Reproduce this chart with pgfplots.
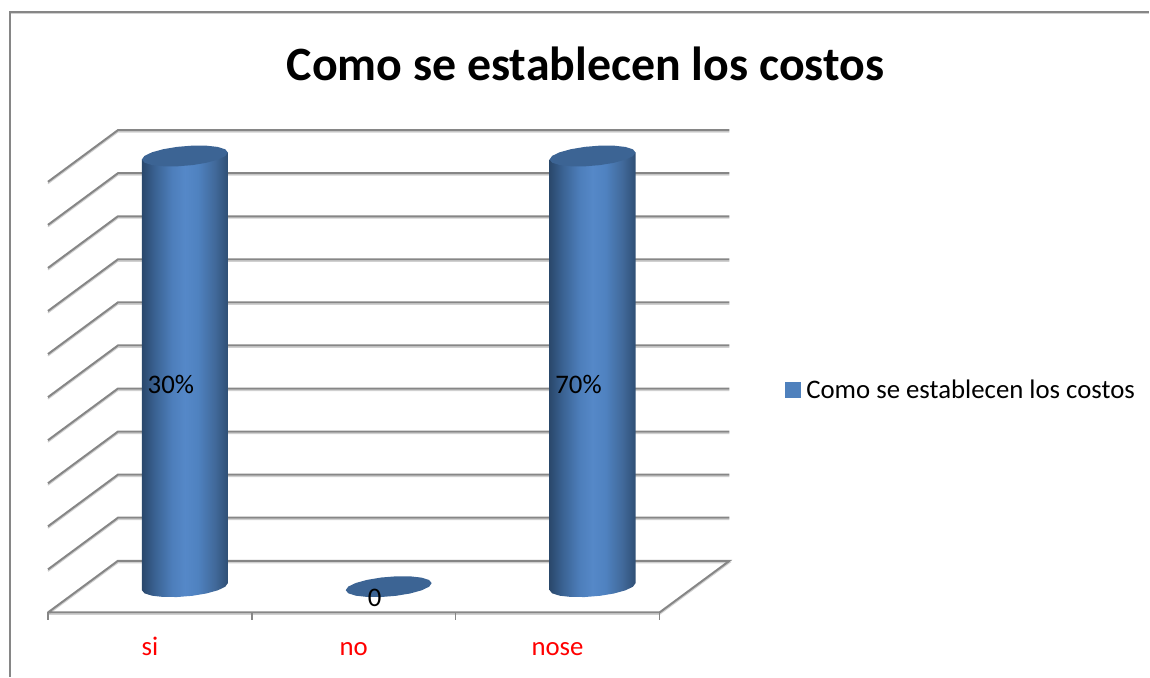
\documentclass[border=0pt]{standalone}
\usepackage{pgfplots}
\usepackage{pgfplotstable}
\usepackage{fontspec}
\setmainfont{Carlito}
\pgfplotsset{compat=1.18}
\definecolor{gridgray}{HTML}{868686}
\definecolor{gridshadow}{HTML}{D0D0D0}
\definecolor{captop}{HTML}{3C6494}
\definecolor{legendblue}{HTML}{4F81BD}
\definecolor{c0}{HTML}{2A486C}
\definecolor{c1}{HTML}{3A6292}
\definecolor{c2}{HTML}{4D7EBB}
\definecolor{c3}{HTML}{5588C8}
\definecolor{c4}{HTML}{4F82C0}
\definecolor{c5}{HTML}{41699A}
\definecolor{c6}{HTML}{2F4F75}
% a path is fitted to the middle 50bp of the shading
\pgfdeclarehorizontalshading{cyl}{100bp}{color(0bp)=(c0); color(25bp)=(c0); color(32.5bp)=(c1); color(42.5bp)=(c2); color(50bp)=(c3); color(57.5bp)=(c4); color(67.5bp)=(c5); color(75bp)=(c6); color(100bp)=(c6)}
% outline of the tilted ellipse (offsets in pixels)
\pgfplotstableread{
ox oy
43 3.5
40.4 6.68
32.9 9.04
21.5 10.32
7.5 10.36
-7.5 9.14
-21.5 6.82
-32.9 3.68
-40.4 0.10
-43 -3.5
-40.4 -6.68
-32.9 -9.04
-21.5 -10.32
-7.5 -10.36
7.5 -9.14
21.5 -6.82
32.9 -3.68
40.4 -0.10
}\capshape
% outline of the cylinder side: lower half of base, then up to the cap
\pgfplotstableread{
ox oy h
-43 -3.5 0
-40.4 -6.68 0
-32.9 -9.04 0
-21.5 -10.32 0
-7.5 -10.36 0
7.5 -9.14 0
21.5 -6.82 0
32.9 -3.68 0
40.4 -0.10 0
43 3.5 0
43 3.5 1
-43 -3.5 1
}\bodyshape
% walls and floor
\pgfplotstableread{
x y
-0.6716 -0.6
-0.3284 0.6
2.6716 0.6
2.3284 -0.6
-0.6716 -0.6
nan nan
-0.6716 0.4
-0.3284 1.6
2.6716 1.6
nan nan
-0.6716 1.4
-0.3284 2.6
2.6716 2.6
nan nan
-0.6716 2.4
-0.3284 3.6
2.6716 3.6
nan nan
-0.6716 3.4
-0.3284 4.6
2.6716 4.6
nan nan
-0.6716 4.4
-0.3284 5.6
2.6716 5.6
nan nan
-0.6716 5.4
-0.3284 6.6
2.6716 6.6
nan nan
-0.6716 6.4
-0.3284 7.6
2.6716 7.6
nan nan
-0.6716 7.4
-0.3284 8.6
2.6716 8.6
nan nan
-0.6716 8.4
-0.3284 9.6
2.6716 9.6
nan nan
-0.6716 9.4
-0.3284 10.6
2.6716 10.6
}\walls
\newcommand{\cylinderbody}[2]{%
  \addplot[draw=none,shading=cyl,forget plot] table[x expr={#1+\thisrow{ox}/204},y expr={#2*\thisrow{h}+\thisrow{oy}/43.1}] {\bodyshape};}
\newcommand{\cylindercap}[2]{%
  \addplot[draw=none,fill=captop,forget plot] table[x expr={#1+\thisrow{ox}/204},y expr={#2+\thisrow{oy}/43.1}] {\capshape};}
\begin{document}
\begin{tikzpicture}
\begin{axis}[
  width=1150pt,height=677pt,scale only axis,
  xmin=-0.90686,xmax=4.7304,ymin=-2.0882,ymax=13.6195,
  axis line style={draw=none},
  major tick length=0pt,
  ytick=\empty,
  xtick={-0.1716,0.8284,1.8284},
  xticklabels={si,no,nose},
  x tick label style={text=red,font=\fontsize{26.8}{30}\selectfont,anchor=base,yshift=21pt},
  title={\textbf{Como se establecen los costos}},
  title style={font=\fontsize{47.9}{54}\selectfont,at={(rel axis cs:0.5096,0.897)},anchor=center},
  unbounded coords=jump,
  clip=false,
  legend style={at={(rel axis cs:0.6831,0.4240)},anchor=west,draw=none,fill=none,inner sep=0pt,outer sep=0pt,font=\fontsize{26.8}{30}\selectfont},
  legend cell align=left,
  legend image code/.code={\fill[legendblue] (0pt,-7.5pt) rectangle (15pt,7.5pt);},
]
\addlegendimage{legendblue}
\addlegendentry{\hspace*{4pt}Como se establecen los costos}
% chart frame
\addplot[forget plot,gridshadow,line width=1.5pt] coordinates {(-0.8578,13.3063) (4.7304,13.3063)};
\addplot[forget plot,gridgray,line width=1.8pt] coordinates {(-0.8578,-2.0882) (-0.8578,13.3411) (4.7304,13.3411)};
\addplot[forget plot,gridshadow,line width=1.5pt] table[x=x,y expr={\thisrow{y}-0.04}] {\walls};
\addplot[forget plot,gridgray,line width=2pt] table[x=x,y=y] {\walls};
% tick marks
\addplot[forget plot,gridgray,line width=1.5pt] coordinates {
(-0.6716,-0.6) (-0.6716,-0.7657) (nan,nan)
(0.3284,-0.6) (0.3284,-0.7657) (nan,nan)
(1.3284,-0.6) (1.3284,-0.7657) (nan,nan)
(2.3284,-0.6) (2.3284,-0.7657)
};
% bars: si, no, nose
\cylinderbody{0}{10}
\cylindercap{0}{10}
\cylindercap{1}{0}
\cylinderbody{2}{10}
\cylindercap{2}{10}
% data labels
\node[font=\fontsize{26.8}{30}\selectfont] at (axis cs:-0.0686,4.687) {30\%};
\node[font=\fontsize{26.8}{30}\selectfont] at (axis cs:1.9314,4.687) {70\%};
\node[font=\fontsize{26.8}{30}\selectfont] at (axis cs:0.9314,-0.255) {0};
\end{axis}
\end{tikzpicture}
\end{document}
